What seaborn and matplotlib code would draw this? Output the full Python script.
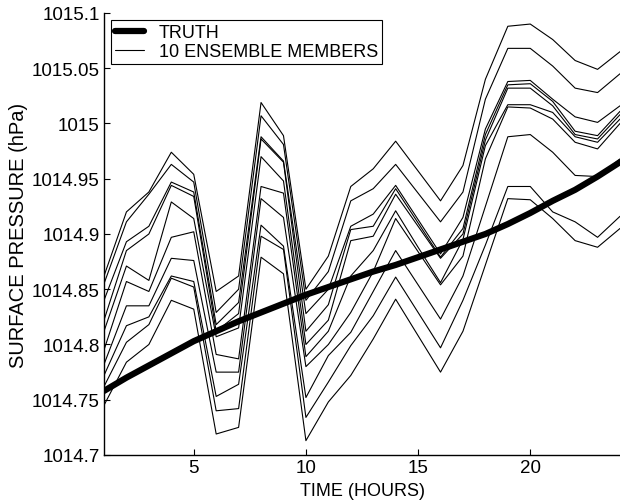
import matplotlib
matplotlib.use("Agg")
import matplotlib.pyplot as plt
from matplotlib.lines import Line2D
from matplotlib.ticker import FuncFormatter, MultipleLocator
import numpy as np
import pandas as pd
import seaborn as sns

hours = list(range(1, 25))

truth = [1014.758, 1014.770, 1014.781, 1014.792, 1014.803, 1014.812, 1014.821, 1014.829,
         1014.837, 1014.845, 1014.852, 1014.859, 1014.866, 1014.872, 1014.879, 1014.886,
         1014.893, 1014.900, 1014.909, 1014.919, 1014.930, 1014.940, 1014.952, 1014.965]

# ensemble member values per hour (10 members), listed by hour
ens_h01 = [1014.862, 1014.855, 1014.840, 1014.822, 1014.812, 1014.795, 1014.782, 1014.772, 1014.762, 1014.745]
ens_h02 = [1014.920, 1014.911, 1014.893, 1014.885, 1014.871, 1014.857, 1014.835, 1014.817, 1014.802, 1014.784]
ens_h03 = [1014.938, 1014.936, 1014.907, 1014.900, 1014.858, 1014.848, 1014.835, 1014.825, 1014.818, 1014.800]
ens_h04 = [1014.974, 1014.963, 1014.947, 1014.944, 1014.929, 1014.897, 1014.878, 1014.862, 1014.860, 1014.840]
ens_h05 = [1014.954, 1014.947, 1014.938, 1014.934, 1014.914, 1014.902, 1014.876, 1014.857, 1014.852, 1014.832]
ens_h06 = [1014.848, 1014.829, 1014.818, 1014.812, 1014.807, 1014.791, 1014.775, 1014.753, 1014.740, 1014.719]
ens_h07 = [1014.862, 1014.850, 1014.838, 1014.828, 1014.815, 1014.787, 1014.775, 1014.764, 1014.742, 1014.725]
ens_h08 = [1015.019, 1015.007, 1014.988, 1014.986, 1014.970, 1014.943, 1014.932, 1014.908, 1014.898, 1014.879]
ens_h09 = [1014.989, 1014.981, 1014.966, 1014.965, 1014.948, 1014.937, 1014.915, 1014.889, 1014.886, 1014.864]
ens_h10 = [1014.850, 1014.840, 1014.828, 1014.812, 1014.800, 1014.789, 1014.780, 1014.752, 1014.734, 1014.713]
ens_h11 = [1014.880, 1014.866, 1014.850, 1014.836, 1014.822, 1014.812, 1014.800, 1014.790, 1014.766, 1014.748]
ens_h12 = [1014.943, 1014.930, 1014.907, 1014.904, 1014.894, 1014.862, 1014.829, 1014.811, 1014.799, 1014.772]
ens_h13 = [1014.959, 1014.941, 1014.918, 1014.907, 1014.898, 1014.885, 1014.866, 1014.848, 1014.826, 1014.805]
ens_h14 = [1014.984, 1014.963, 1014.944, 1014.941, 1014.936, 1014.921, 1014.914, 1014.885, 1014.861, 1014.841]
ens_h15 = [1014.957, 1014.937, 1014.913, 1014.910, 1014.907, 1014.888, 1014.884, 1014.854, 1014.829, 1014.808]
ens_h16 = [1014.930, 1014.911, 1014.882, 1014.879, 1014.878, 1014.856, 1014.854, 1014.823, 1014.797, 1014.775]
ens_h17 = [1014.962, 1014.938, 1014.915, 1014.905, 1014.900, 1014.895, 1014.880, 1014.862, 1014.840, 1014.812]
ens_h18 = [1015.040, 1015.022, 1014.995, 1014.990, 1014.985, 1014.980, 1014.968, 1014.925, 1014.890, 1014.872]
ens_h19 = [1015.088, 1015.068, 1015.038, 1015.035, 1015.032, 1015.017, 1015.015, 1014.988, 1014.943, 1014.932]
ens_h20 = [1015.090, 1015.068, 1015.039, 1015.036, 1015.032, 1015.017, 1015.014, 1014.990, 1014.943, 1014.931]
ens_h21 = [1015.076, 1015.052, 1015.022, 1015.020, 1015.016, 1015.010, 1015.004, 1014.974, 1014.920, 1014.914]
ens_h22 = [1015.057, 1015.032, 1015.006, 1014.993, 1014.990, 1014.988, 1014.983, 1014.953, 1014.911, 1014.894]
ens_h23 = [1015.049, 1015.028, 1015.001, 1014.989, 1014.986, 1014.983, 1014.977, 1014.952, 1014.897, 1014.888]
ens_h24 = [1015.065, 1015.045, 1015.016, 1015.011, 1015.008, 1015.004, 1015.000, 1014.968, 1014.916, 1014.905]

ensemble = [ens_h01, ens_h02, ens_h03, ens_h04, ens_h05, ens_h06, ens_h07, ens_h08,
            ens_h09, ens_h10, ens_h11, ens_h12, ens_h13, ens_h14, ens_h15, ens_h16,
            ens_h17, ens_h18, ens_h19, ens_h20, ens_h21, ens_h22, ens_h23, ens_h24]

rows = []
for h, vals in zip(hours, ensemble):
    for m, v in enumerate(vals):
        rows.append({"hour": h, "member": m, "pressure": v})
df_ens = pd.DataFrame(rows)
df_truth = pd.DataFrame({"hour": hours, "pressure": truth})

sns.set_style("white")
plt.rcParams['font.family'] = ['Liberation Sans', 'DejaVu Sans']
plt.rcParams['text.color'] = 'black'
plt.rcParams['axes.labelcolor'] = 'black'

fig = plt.figure(figsize=(6.2, 5.02), dpi=100)
ax = fig.add_axes([104/620, 46/502, 516/620, 442/502])

sns.lineplot(data=df_ens, x="hour", y="pressure", units="member", estimator=None,
             color="black", linewidth=0.8, ax=ax, legend=False)
sns.lineplot(data=df_truth, x="hour", y="pressure", color="black", linewidth=4.5,
             ax=ax, legend=False)

ax.set_xlim(1, 24)
ax.set_ylim(1014.7, 1015.1)
ax.xaxis.set_major_locator(MultipleLocator(5))
ax.yaxis.set_major_locator(MultipleLocator(0.05))
ax.yaxis.set_major_formatter(FuncFormatter(lambda v, p: "{:g}".format(round(v, 2))))
ax.tick_params(direction="in", length=4, width=0.8, labelsize=13.5, colors="black",
               left=True, bottom=True, pad=3)
for s in ["top", "right"]:
    ax.spines[s].set_visible(False)
for s in ["left", "bottom"]:
    ax.spines[s].set_color("black")
    ax.spines[s].set_linewidth(1.0)

ax.set_xlabel("TIME (HOURS)", fontsize=13, labelpad=4, color="black")
ax.set_ylabel("SURFACE PRESSURE (hPa)", fontsize=14.5, labelpad=3, color="black")

handles = [Line2D([], [], color="black", linewidth=4.5),
           Line2D([], [], color="black", linewidth=0.8)]
leg = ax.legend(handles, ["TRUTH", "10 ENSEMBLE MEMBERS"], loc="upper left",
                bbox_to_anchor=(0.013, 0.985), fontsize=13, frameon=True, fancybox=False,
                framealpha=1, edgecolor="black", handlelength=1.6, handletextpad=0.8,
                borderpad=0.25, labelspacing=0.1, borderaxespad=0, labelcolor="black")
leg.get_frame().set_linewidth(0.8)

fig.savefig("out.png", dpi=100)
